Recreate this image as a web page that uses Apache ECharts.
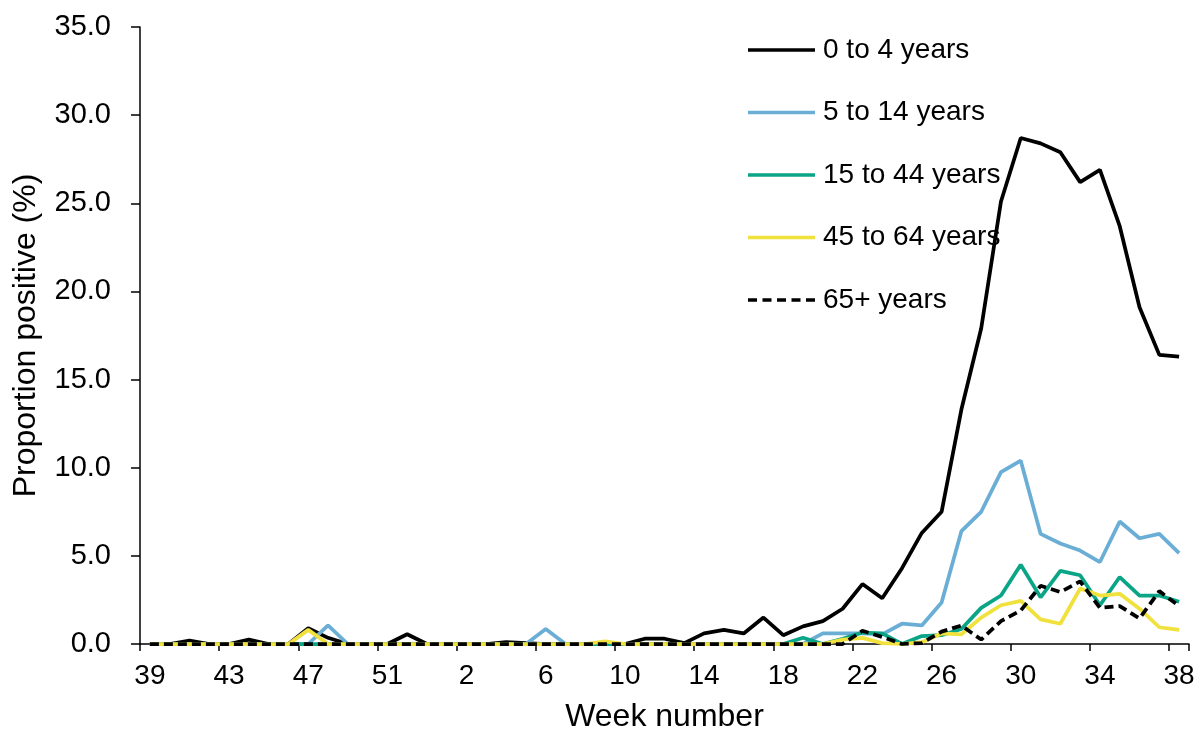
<!DOCTYPE html>
<html>
<head>
<meta charset="utf-8">
<script src="https://cdn.jsdelivr.net/npm/echarts@6/dist/echarts.min.js"></script>
<style>
html,body{margin:0;padding:0;background:#fff;}
#chart{width:1198px;height:738px;}
</style>
</head>
<body>
<div id="chart"></div>
<script>
const weeks = ['39','40','41','42','43','44','45','46','47','48','49','50','51','52','53',
  '1','2','3','4','5','6','7','8','9','10','11','12','13','14','15','16','17','18','19','20',
  '21','22','23','24','25','26','27','28','29','30','31','32','33','34','35','36','37','38'];

const age0to4 = [0,0,0.2,0,0,0.25,0,0,0.9,0.35,0,0,0,0.55,0,
  0,0,0,0.1,0.05,0,0,0,0,0,0.3,0.3,0.05,0.6,0.8,0.6,1.5,0.5,1.0,1.3,
  2.0,3.4,2.6,4.3,6.3,7.5,13.3,17.9,25.1,28.7,28.4,27.9,26.2,26.9,23.7,19.1,16.4,16.3];

const age5to14 = [0,0,0,0,0,0,0,0,0,1.05,0,0,0,0,0,
  0,0,0,0,0,0.85,0,0,0,0,0,0,0,0,0,0,0,0,0,0.6,
  0.6,0.6,0.55,1.15,1.05,2.35,6.4,7.5,9.75,10.4,6.25,5.7,5.3,4.65,6.95,6.0,6.25,5.15];

const age15to44 = [0,0,0,0,0,0,0,0,0,0,0,0,0,0,0,
  0,0,0,0,0,0,0,0,0,0,0,0,0,0,0,0,0,0,0.35,0,
  0.3,0.65,0.6,0,0.45,0.5,0.85,2.05,2.75,4.5,2.65,4.15,3.9,2.2,3.8,2.75,2.75,2.4];

const age45to64 = [0,0,0,0,0,0,0,0,0.8,0,0,0,0,0,0,
  0,0,0,0,0,0,0,0,0.15,0,0,0,0,0,0,0,0,0,0,0,
  0.25,0.35,0.05,0,0.1,0.6,0.55,1.5,2.2,2.45,1.4,1.15,3.15,2.75,2.85,2.0,0.95,0.8];

const age65plus = [0,0,0,0,0,0,0,0,0,0,0,0,0,0,0,
  0,0,0,0,0,0,0,0,0,0,0,0,0,0,0,0,0,0,0,0,
  0,0.75,0.4,0,0.05,0.7,1.05,0.25,1.3,1.9,3.3,2.95,3.55,2.05,2.15,1.45,3.0,2.15];

const seriesNames = ['0 to 4 years','5 to 14 years','15 to 44 years','45 to 64 years','65+ years'];
const seriesData = [age0to4, age5to14, age15to44, age45to64, age65plus];
const seriesColors = ['#000000','#6aaed6','#0aa586','#f0e13c','#000000'];
const seriesDash = ['solid','solid','solid','solid',[9,5]];

// legend glyphs: a solid bar and a dashed bar (aspect 134:7 matches 67x3.5 icon box)
const solidIcon = 'path://M0,0H134V7H0Z';
const dashedIcon = 'path://M0,0H18V7H0Z M29,0H47V7H29Z M58,0H76V7H58Z M87,0H105V7H87Z M116,0H134V7H116Z';

const font = 'Liberation Sans, Arial, sans-serif';
const chart = echarts.init(document.getElementById('chart'));
chart.setOption({
  animation: false,
  backgroundColor: '#ffffff',
  textStyle: {fontFamily: font},
  grid: {left: 140, right: 9, top: 27, bottom: 88, containLabel: false},
  legend: {
    orient: 'vertical',
    left: 748,
    top: 35,
    padding: 0,
    itemWidth: 67,
    itemHeight: 3.5,
    itemGap: 32.5,
    symbolKeepAspect: false,
    itemStyle: {borderWidth: 0},
    textStyle: {fontFamily: font, fontSize: 28, color: '#000', lineHeight: 30, padding: [0, 0, 0, 3]},
    data: seriesNames.map((n, i) => ({name: n, icon: i === 4 ? dashedIcon : solidIcon}))
  },
  xAxis: {
    type: 'category',
    data: weeks,
    boundaryGap: true,
    name: 'Week number',
    nameLocation: 'middle',
    nameGap: 57,
    nameTextStyle: {fontFamily: font, fontSize: 32, color: '#000'},
    axisLine: {lineStyle: {color: '#000', width: 1.5}},
    axisTick: {show: true, interval: 3, length: 7, lineStyle: {color: '#000', width: 1.5}},
    axisLabel: {interval: 3, fontFamily: font, fontSize: 28, color: '#000', margin: 18},
    splitLine: {show: false}
  },
  yAxis: {
    type: 'value',
    min: 0, max: 35, interval: 5,
    name: 'Proportion positive (%)',
    nameLocation: 'middle',
    nameGap: 98,
    nameTextStyle: {fontFamily: font, fontSize: 32, color: '#000'},
    axisLine: {show: true, lineStyle: {color: '#000', width: 1.5}},
    axisTick: {show: true, length: 9, lineStyle: {color: '#000', width: 1.5}},
    axisLabel: {fontFamily: font, fontSize: 29, color: '#000', margin: 29,
      formatter: v => v.toFixed(1)},
    splitLine: {show: false}
  },
  series: seriesNames.map((n, i) => ({
    name: n,
    type: 'line',
    data: seriesData[i],
    symbol: 'none',
    smooth: false,
    color: seriesColors[i],
    lineStyle: {color: seriesColors[i], width: 3.75, type: seriesDash[i]},
    z: 2 + i
  }))
});
</script>
</body>
</html>
